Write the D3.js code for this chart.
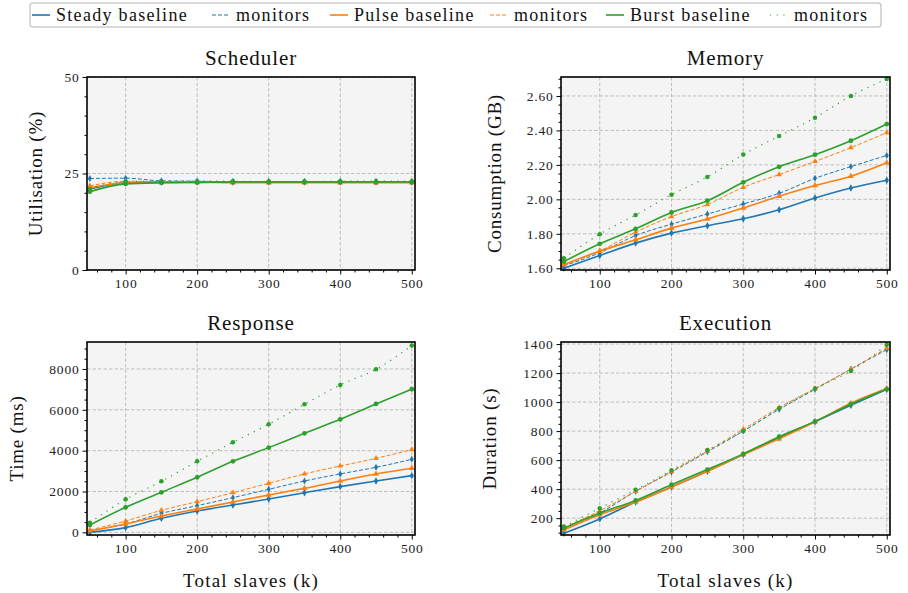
<!DOCTYPE html>
<html>
<head>
<meta charset="utf-8">
<script src="https://cdn.jsdelivr.net/npm/d3@7"></script>
<style>
  body { margin: 0; background: #fff; }
</style>
</head>
<body>
<svg id="chart" width="908" height="593"></svg>
<script>
// x values (thousands of slaves)
const slaves = [50, 100, 150, 200, 250, 300, 350, 400, 450, 500];
const xTicks = [100, 200, 300, 400, 500];

// Scheduler utilisation (%)
const schedSteadyBase = [21.0, 22.6, 22.8, 22.8, 22.8, 22.8, 22.8, 22.8, 22.8, 22.8];
const schedSteadyMon  = [23.7, 23.8, 23.1, 23.0, 22.9, 22.9, 22.9, 22.9, 22.9, 22.8];
const schedPulseBase  = [21.3, 22.6, 22.7, 22.7, 22.6, 22.6, 22.6, 22.6, 22.6, 22.6];
const schedPulseMon   = [21.8, 23.0, 22.9, 22.9, 22.8, 22.8, 22.8, 22.8, 22.8, 22.8];
const schedBurstBase  = [20.3, 22.3, 22.6, 22.7, 22.8, 22.8, 22.8, 22.8, 22.8, 22.8];
const schedBurstMon   = [21.0, 22.9, 23.0, 23.0, 23.0, 22.9, 22.9, 23.0, 23.0, 23.0];

// Memory consumption (GB)
const memSteadyBase = [1.600, 1.674, 1.746, 1.804, 1.847, 1.887, 1.940, 2.008, 2.066, 2.111];
const memSteadyMon  = [1.614, 1.690, 1.790, 1.856, 1.915, 1.973, 2.035, 2.122, 2.190, 2.255];
const memPulseBase  = [1.620, 1.700, 1.765, 1.833, 1.886, 1.950, 2.018, 2.080, 2.134, 2.212];
const memPulseMon   = [1.625, 1.700, 1.810, 1.900, 1.970, 2.070, 2.144, 2.220, 2.300, 2.387];
const memBurstBase  = [1.639, 1.742, 1.829, 1.924, 1.992, 2.099, 2.189, 2.259, 2.340, 2.437];
const memBurstMon   = [1.658, 1.798, 1.909, 2.027, 2.130, 2.260, 2.367, 2.474, 2.600, 2.698];

// Response time (ms)
const respSteadyBase = [0, 230, 690, 1045, 1340, 1630, 1940, 2240, 2515, 2776];
const respSteadyMon  = [65, 410, 930, 1306, 1700, 2107, 2515, 2860, 3185, 3577];
const respPulseBase  = [80, 410, 800, 1143, 1486, 1830, 2155, 2515, 2860, 3135];
const respPulseMon   = [115, 555, 1078, 1502, 1943, 2400, 2860, 3250, 3625, 4050];
const respBurstBase  = [360, 1225, 1960, 2695, 3478, 4148, 4850, 5536, 6287, 7006];
const respBurstMon   = [474, 1617, 2500, 3478, 4409, 5291, 6271, 7218, 7986, 9145];

// Execution duration (s)
const execSteadyBase = [96, 195, 311, 415, 523, 638, 754, 865, 978, 1088];
const execSteadyMon  = [119, 235, 385, 518, 657, 800, 950, 1088, 1227, 1361];
const execPulseBase  = [119, 223, 311, 415, 523, 638, 747, 865, 992, 1093];
const execPulseMon   = [135, 251, 385, 523, 662, 812, 962, 1093, 1227, 1372];
const execBurstBase  = [131, 235, 322, 431, 535, 643, 761, 867, 985, 1088];
const execBurstMon   = [142, 269, 396, 530, 669, 800, 957, 1093, 1215, 1395];

const seriesLabels = ['Steady baseline', 'monitors', 'Pulse baseline', 'monitors', 'Burst baseline', 'monitors'];

const FONT = '"Liberation Serif", "Times New Roman", "DejaVu Serif", serif';

const colors = { steady: '#1f77b4', pulse: '#ff7f0e', burst: '#2ca02c' };
const styles = [
    { color: colors.steady, dash: null, width: 1.6, symbol: d3.symbolDiamond, size: 16 },
    { color: colors.steady, dash: '4,2', width: 1, symbol: d3.symbolDiamond, size: 14 },
    { color: colors.pulse, dash: null, width: 1.6, symbol: d3.symbolTriangle, size: 16 },
    { color: colors.pulse, dash: '4,2', width: 1, symbol: d3.symbolTriangle, size: 14 },
    { color: colors.burst, dash: null, width: 1.6, symbol: d3.symbolCircle, size: 18 },
    { color: colors.burst, dash: '1.2,5.5', width: 1.2, symbol: d3.symbolCircle, size: 16 }
];

const panels = [
    { title: 'Scheduler', ylabel: 'Utilisation (%)', box: [87, 77, 415, 270], ydom: [0, 50],
      major: [0, 25, 50], minorStep: 5, fmt: d3.format('d'), xlabel: false,
      series: [schedSteadyBase, schedSteadyMon, schedPulseBase, schedPulseMon, schedBurstBase, schedBurstMon],
      ylabelX: 35 },
    { title: 'Memory', ylabel: 'Consumption (GB)', box: [561, 77, 890, 270], ydom: [1.59, 2.71],
      major: d3.range(1.6, 2.61, 0.2), minorStep: 0.05, fmt: d3.format('.2f'), xlabel: false,
      series: [memSteadyBase, memSteadyMon, memPulseBase, memPulseMon, memBurstBase, memBurstMon],
      ylabelX: 494 },
    { title: 'Response', ylabel: 'Time (ms)', box: [87, 342, 415, 535], ydom: [-130, 9320],
      major: d3.range(0, 8001, 2000), minorStep: 500, fmt: d3.format('d'), xlabel: true,
      series: [respSteadyBase, respSteadyMon, respPulseBase, respPulseMon, respBurstBase, respBurstMon],
      ylabelX: 16 },
    { title: 'Execution', ylabel: 'Duration (s)', box: [561, 342, 890, 535], ydom: [84, 1414],
      major: d3.range(200, 1401, 200), minorStep: 50, fmt: d3.format('d'), xlabel: true,
      series: [execSteadyBase, execSteadyMon, execPulseBase, execPulseMon, execBurstBase, execBurstMon],
      ylabelX: 489 }
];

const svg = d3.select('#chart');

panels.forEach(p => {
    const [x0, y0, x1, y1] = p.box;
    const x = d3.scaleLinear().domain([46, 504.5]).range([x0, x1]);
    const y = d3.scaleLinear().domain(p.ydom).range([y1, y0]);
    const g = svg.append('g');

    g.append('rect')
        .attr('x', x0).attr('y', y0)
        .attr('width', x1 - x0).attr('height', y1 - y0)
        .attr('fill', '#f4f4f4');

    // grid
    g.append('g').selectAll('line')
        .data(xTicks).join('line')
        .attr('x1', d => x(d)).attr('x2', d => x(d))
        .attr('y1', y0).attr('y2', y1)
        .attr('stroke', '#b8b8b8').attr('stroke-width', 0.9).attr('stroke-dasharray', '3.5,2');
    g.append('g').selectAll('line')
        .data(p.major).join('line')
        .attr('x1', x0).attr('x2', x1)
        .attr('y1', d => y(d)).attr('y2', d => y(d))
        .attr('stroke', '#b8b8b8').attr('stroke-width', 0.9).attr('stroke-dasharray', '3.5,2');

    // minor ticks
    const xMinor = d3.range(60, 501, 20).filter(v => v % 100 !== 0);
    const yMinor = d3.range(Math.ceil(p.ydom[0] / p.minorStep) * p.minorStep, p.ydom[1], p.minorStep)
        .filter(v => !p.major.some(m => Math.abs(m - v) < 1e-6));

    const xAxis = g.append('g')
        .attr('transform', `translate(0,${y1})`)
        .call(d3.axisBottom(x).tickValues(xTicks).tickSize(4.5).tickPadding(4).tickFormat(d3.format('d')));
    const xAxisMinor = g.append('g')
        .attr('transform', `translate(0,${y1})`)
        .call(d3.axisBottom(x).tickValues(xMinor).tickSize(2.5).tickFormat(''));
    const yAxis = g.append('g')
        .attr('transform', `translate(${x0},0)`)
        .call(d3.axisLeft(y).tickValues(p.major).tickSize(4.5).tickPadding(3).tickFormat(p.fmt));
    const yAxisMinor = g.append('g')
        .attr('transform', `translate(${x0},0)`)
        .call(d3.axisLeft(y).tickValues(yMinor).tickSize(2.5).tickFormat(''));

    [xAxis, xAxisMinor, yAxis, yAxisMinor].forEach(a => {
        a.attr('font-family', FONT);
        a.select('.domain').remove();
        a.selectAll('.tick line').attr('stroke', '#000').attr('stroke-width', 1);
        a.selectAll('.tick text')
            .attr('fill', '#222')
            .attr('font-family', FONT)
            .attr('font-size', 13.5)
            .attr('letter-spacing', 0.8);
    });

    const line = d3.line()
        .x((d, i) => x(slaves[i]))
        .y(d => y(d))
        .curve(d3.curveMonotoneX);

    p.series.forEach((vals, si) => {
        const st = styles[si];
        g.append('path')
            .datum(vals)
            .attr('d', line)
            .attr('fill', 'none')
            .attr('stroke', st.color)
            .attr('stroke-width', st.width)
            .attr('stroke-dasharray', st.dash);
        g.append('g').selectAll('path')
            .data(vals).join('path')
            .attr('transform', (d, i) => `translate(${x(slaves[i])},${y(d)})`)
            .attr('d', d3.symbol().type(st.symbol).size(st.size))
            .attr('fill', st.color);
    });

    // frame
    g.append('rect')
        .attr('x', x0).attr('y', y0)
        .attr('width', x1 - x0).attr('height', y1 - y0)
        .attr('fill', 'none')
        .attr('stroke', '#000')
        .attr('stroke-width', 1.6);

    g.append('text')
        .attr('x', (x0 + x1) / 2).attr('y', y0 - 12)
        .attr('text-anchor', 'middle')
        .attr('font-family', FONT)
        .attr('font-size', 21)
        .attr('letter-spacing', 0.9)
        .attr('fill', '#111')
        .text(p.title);

    g.append('text')
        .attr('transform', `translate(${p.ylabelX},${(y0 + y1) / 2}) rotate(-90)`)
        .attr('text-anchor', 'middle')
        .attr('dominant-baseline', 'central')
        .attr('font-family', FONT)
        .attr('font-size', 19)
        .attr('letter-spacing', 0.8)
        .attr('fill', '#111')
        .text(p.ylabel);

    if (p.xlabel) {
        g.append('text')
            .attr('x', (x0 + x1) / 2).attr('y', 587)
            .attr('text-anchor', 'middle')
            .attr('font-family', FONT)
            .attr('font-size', 19)
            .attr('letter-spacing', 1.2)
            .attr('fill', '#111')
            .text('Total slaves (k)');
    }
});

// legend
const legendX = [32, 212, 330, 490, 606, 770];
const legend = svg.append('g');
legend.append('rect')
    .attr('x', 30).attr('y', 3)
    .attr('width', 851).attr('height', 24)
    .attr('rx', 3)
    .attr('fill', '#fff')
    .attr('stroke', '#cccccc')
    .attr('stroke-width', 1.5);

seriesLabels.forEach((label, i) => {
    const st = styles[i];
    const lx = legendX[i];
    legend.append('line')
        .attr('x1', lx).attr('x2', lx + 18)
        .attr('y1', 15).attr('y2', 15)
        .attr('stroke', st.color)
        .attr('stroke-width', st.width)
        .attr('stroke-dasharray', st.dash);
    legend.append('text')
        .attr('x', lx + 24).attr('y', 20.5)
        .attr('font-family', FONT)
        .attr('font-size', 18)
        .attr('letter-spacing', 1.3)
        .attr('fill', '#111')
        .text(label);
});
</script>
</body>
</html>
